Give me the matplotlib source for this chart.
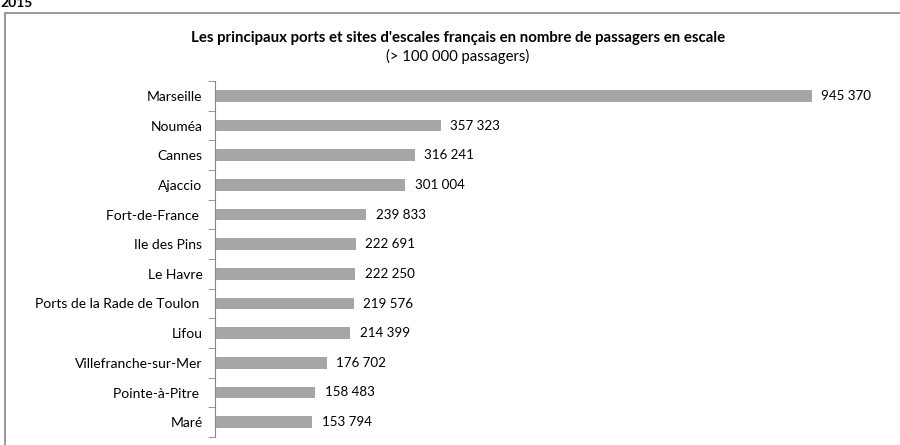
import matplotlib.pyplot as plt
from matplotlib.patches import Rectangle

# Données
ports = ['Marseille', 'Nouméa', 'Cannes', 'Ajaccio', 'Fort-de-France ', 'Ile des Pins',
         'Le Havre', 'Ports de la Rade de Toulon ', 'Lifou', 'Villefranche-sur-Mer',
         'Pointe-à-Pitre ', 'Maré']
passagers = [945370, 357323, 316241, 301004, 239833, 222691,
             222250, 219576, 214399, 176702, 158483, 153794]
etiquettes = ['945 370', '357 323', '316 241', '301 004', '239 833', '222 691',
              '222 250', '219 576', '214 399', '176 702', '158 483', '153 794']

plt.rcParams['font.family'] = ['Lato', 'DejaVu Sans']

fig = plt.figure(figsize=(9, 4.45), dpi=100)
ax = fig.add_axes([215 / 900, 1 - 437 / 445, 663 / 900, 356 / 445])

y = list(range(len(ports)))
ax.barh(y, passagers, height=0.4, color='#a6a6a6')
for yi, v, lab in zip(y, passagers, etiquettes):
    ax.text(v + 15000, yi, lab, va='center', ha='left', fontsize=9.6)

ax.set_ylim(len(ports) - 0.5, -0.5)
ax.set_xlim(0, 1050000)
ax.set_yticks(y)
ax.set_yticklabels(ports, fontsize=10)
ax.tick_params(axis='y', which='major', length=0, pad=9)
ax.set_yticks([i + 0.5 for i in range(-1, len(ports))], minor=True)
ax.tick_params(axis='y', which='minor', length=5, color='#868686')
ax.set_xticks([])
for s in ['top', 'right', 'bottom']:
    ax.spines[s].set_visible(False)
ax.spines['left'].set_color('#868686')

fig.text(458 / 900, 1 - 38 / 445, "Les principaux ports et sites d'escales français en nombre de passagers en escale",
         ha='center', va='center', fontsize=10.8, fontweight='bold')
fig.text(458 / 900, 1 - 56 / 445, '(> 100 000 passagers)', ha='center', va='center', fontsize=10.7)
fig.text(0, 1 - 7 / 445, '2015', ha='left', va='baseline', fontsize=10, fontweight='bold')

fig.patches.append(Rectangle((5 / 900, -0.1), 1.2, 1.1 - 13 / 445, transform=fig.transFigure,
                             fill=False, edgecolor='#888888', linewidth=1.2))

fig.savefig('out.png', dpi=100)
